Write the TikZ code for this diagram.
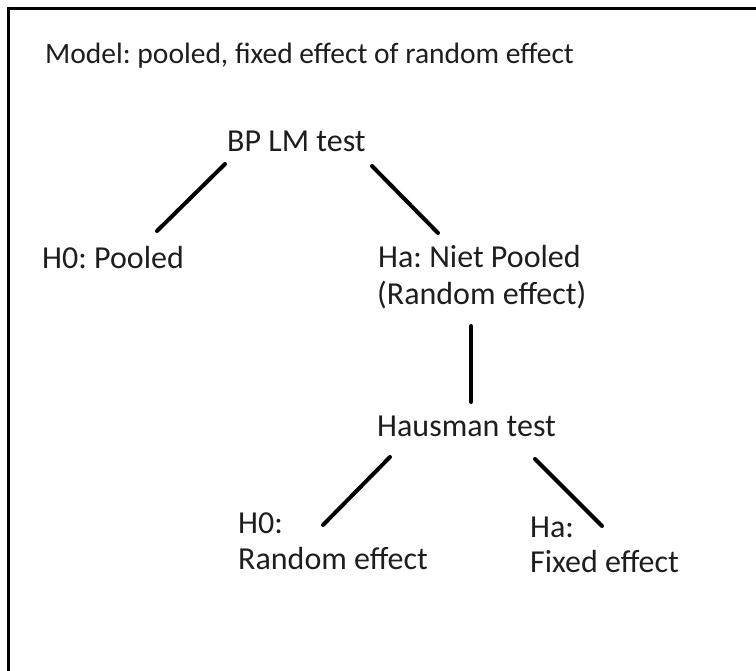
\documentclass[tikz,border=0pt]{standalone}
\usepackage{fontspec}
\setmainfont{Carlito}
\definecolor{ink}{RGB}{30,30,30}
\frenchspacing
\begin{document}
\begin{tikzpicture}[x=1pt,y=-1pt,
  lbl/.style={anchor=base west,inner sep=0pt,text=ink,
    font=\fontsize{32}{36}\selectfont},
  link/.style={line width=4pt,line cap=round,draw=black},
  frame/.style={line width=3pt,draw=black}]
\useasboundingbox (0,0) rectangle (756,671);
% frame: only the top and left edges are visible
\coordinate (fr-bl) at (8,671);
\coordinate (fr-tl) at (8,9);
\coordinate (fr-tr) at (756,9);
\draw[frame] (fr-bl) -- (fr-tl) -- (fr-tr);

% labels
\node[lbl,font=\fontsize{29.5}{36}\selectfont] (title) at (45,64) {Model: pooled, fixed effect of random effect};
\node[lbl] (bp)    at (227,152) {BP LM test};
\node[lbl] (h0p)   at (42,269) {H0: Pooled};
\node[lbl] (hanp)  at (378,268) {Ha: Niet Pooled};
\node[lbl] (hare)  at (377,305) {(Random effect)};
\node[lbl] (haus)  at (377,436) {Hausman test};
\node[lbl] (h0)    at (238,533) {H0:};
\node[lbl] (h0re)  at (238,569) {Random effect};
\node[lbl] (ha)    at (530,537) {Ha:};
\node[lbl] (hafe)  at (530,572) {Fixed effect};

% connector end points
\coordinate (bp-l)   at (225,164);
\coordinate (h0p-t)  at (157,231);
\coordinate (bp-r)   at (372,166);
\coordinate (hanp-t) at (438,233);
\coordinate (hare-b) at (471,326);
\coordinate (haus-t) at (471,402);
\coordinate (haus-l) at (390,457);
\coordinate (h0-t)   at (323,525);
\coordinate (haus-r) at (535,459);
\coordinate (ha-t)   at (602,526);

% connectors
\draw[link] (bp-l) -- (h0p-t);
\draw[link] (bp-r) -- (hanp-t);
\draw[link] (hare-b) -- (haus-t);
\draw[link] (haus-l) -- (h0-t);
\draw[link] (haus-r) -- (ha-t);
\end{tikzpicture}
\end{document}
